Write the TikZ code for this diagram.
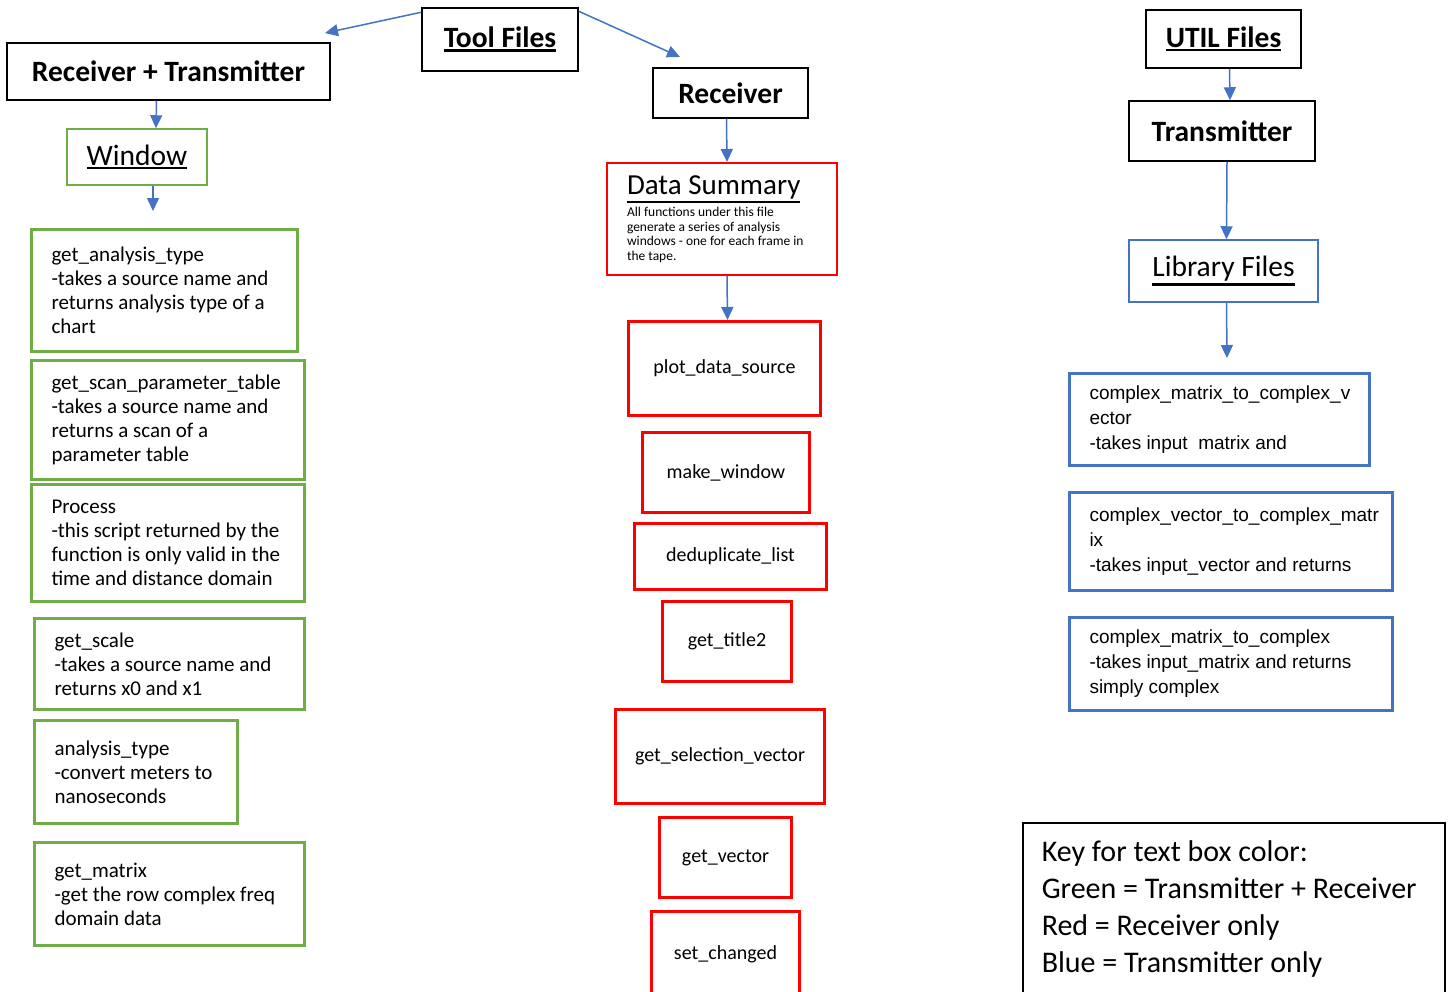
\documentclass[tikz,border=0pt]{standalone}
\usepackage{fontspec}
\setmainfont{Carlito}
\newfontfamily\arialfont{Liberation Sans}
\newcommand{\hdul}[1]{\leavevmode\vtop{\hbox{#1}\kern1.5pt\hrule height 2.5pt}}
\usetikzlibrary{arrows.meta,positioning}
\definecolor{boxgreen}{HTML}{70AD47}
\definecolor{boxred}{HTML}{FF0000}
\definecolor{boxblue}{HTML}{4472C4}

\begin{document}
\begin{tikzpicture}[x=1pt,y=-1pt,
                    head/.style={draw,line width=1.5pt,inner sep=0pt,
                                 font=\fontsize{29.5}{34}\selectfont},
                    gbox/.style={draw=boxgreen,line width=3pt,anchor=north west,align=flush left,
                                 inner xsep=20pt,font=\fontsize{21}{24}\selectfont},
                    rbox/.style={draw=boxred,line width=3pt,anchor=north west,align=center,
                                 font=\fontsize{20}{22}\selectfont},
                    bbox/.style={draw=boxblue,line width=3pt,anchor=north west,align=flush left,
                                 inner xsep=20pt,font=\arialfont\fontsize{19}{25}\selectfont},
                    arr/.style={draw=boxblue,line width=1.5pt,-{Triangle[length=13pt,width=12pt]}}]

  \useasboundingbox (0,0) rectangle (1448,991);

  % top level
  \node[head,minimum width=156,minimum height=63] (toolf) at (500,39.5) {\bfseries\hdul{Tool Files}};
  \node[head,minimum width=323,minimum height=57] (rxtx) at (168.5,71.5) {\bfseries Receiver + Transmitter};
  \node[head,minimum width=155,minimum height=50] (rx) at (730.5,93) {\bfseries Receiver};
  \node[head,minimum width=155,minimum height=58] (utilf) at (1223.5,39) {\bfseries\hdul{UTIL Files}};
  \node[head,minimum width=186,minimum height=60] (tx) at (1222,131) {\bfseries Transmitter};

  \node[head,draw=boxgreen,minimum width=140,minimum height=56] (window) at (137,157) {\hdul{Window}};
  \node[head,draw=boxblue,minimum width=189,minimum height=62] (lib) at (1223.5,271) {\hdul{Library Files}};
  \node[draw=boxred,line width=2pt,anchor=north west,align=flush left,inner xsep=20pt,
        text width=190,minimum height=112,font=\fontsize{29}{34}\selectfont] (dsum) at (606,162)
        {\hdul{Data Summary}\\[3pt]
         \fontsize{13.5}{14.5}\selectfont All functions under this file\\generate a series of analysis\\
         windows - one for each frame in\\the tape.\par};

  % green: receiver + transmitter
  \node[gbox,text width=226,minimum height=122] (gat) at (30,228)
        {get\_analysis\_type\\-takes a source name and\\returns analysis type of a\\chart};
  \node[gbox,text width=233,minimum height=119] (gspt) at (30,359)
        {get\_scan\_parameter\_table\\-takes a source name and\\returns a scan of a\\parameter table};
  \node[gbox,text width=233,minimum height=117] (proc) at (30,483)
        {Process\\-this script returned by the\\function is only valid in the\\time and distance domain};
  \node[gbox,text width=230,minimum height=91] (gsc) at (33,617)
        {get\_scale\\-takes a source name and\\returns x0 and x1};
  \node[gbox,text width=163,minimum height=103] (at) at (33,719)
        {analysis\_type\\-convert meters to\\nanoseconds};
  \node[gbox,text width=230,minimum height=103] (gm) at (33,841)
        {get\_matrix\\-get the row complex freq\\domain data};

  % red: receiver only
  \node[rbox,minimum width=192,minimum height=94] (pds) at (627,320) {plot\_data\_source};
  \node[rbox,minimum width=167,minimum height=80] (mw) at (641,431) {make\_window};
  \node[rbox,minimum width=192,minimum height=66] (ddl) at (633,522) {deduplicate\_list};
  \node[rbox,minimum width=129,minimum height=80] (gt) at (661,600) {get\_title2};
  \node[rbox,minimum width=209,minimum height=94] (gsv) at (614,708) {get\_selection\_vector};
  \node[rbox,minimum width=132,minimum height=80] (gv) at (658,816) {get\_vector};
  \node[rbox,minimum width=148,minimum height=86] (sc) at (650,910) {set\_changed};

  % blue: transmitter only
  \node[bbox,text width=260,minimum height=92] (cm2v) at (1068,372)
        {complex\_matrix\_to\_complex\_v\\ector\\-takes input~~matrix and};
  \node[bbox,text width=283,minimum height=98] (cv2m) at (1068,491)
        {complex\_vector\_to\_complex\_matr\\ix\\-takes input\_vector and returns};
  \node[bbox,text width=283,minimum height=93] (cm2c) at (1068,616)
        {complex\_matrix\_to\_complex\\-takes input\_matrix and returns\\simply complex};

  % key
  \node[draw,line width=1.5pt,anchor=north west,align=flush left,inner xsep=19pt,text width=384,
        minimum height=172,font=\fontsize{30}{37}\selectfont] (key) at (1022,822)
        {Key for text box color:\\Green = Transmitter + Receiver\\Red = Receiver only\\Blue = Transmitter only};

  \coordinate (lefttip) at (325,33);
  \coordinate (righttip) at (680,57);
  \coordinate (winend) at (153,211);
  \coordinate (libend) at (1227,358);

  \draw[arr] ([yshift=-5pt]toolf.north west) -- (lefttip);
  \draw[arr] ([yshift=-4pt]toolf.north east) -- (righttip);
  \draw[arr] ([xshift=-12pt]rxtx.south) -- ([xshift=19pt]window.north);
  \draw[arr] ([xshift=16pt]window.south) -- (winend);
  \draw[arr] ([xshift=-4pt]rx.south) -- ([xshift=5pt]dsum.north);
  \draw[arr] ([xshift=5pt]dsum.south) -- ([xshift=3pt]pds.north);
  \draw[arr] ([xshift=6pt]utilf.south) -- ([xshift=8pt]tx.north);
  \draw[arr] ([xshift=5pt]tx.south) -- ([xshift=3pt]lib.north);
  \draw[arr] ([xshift=3pt]lib.south) -- (libend);
\end{tikzpicture}
\end{document}
